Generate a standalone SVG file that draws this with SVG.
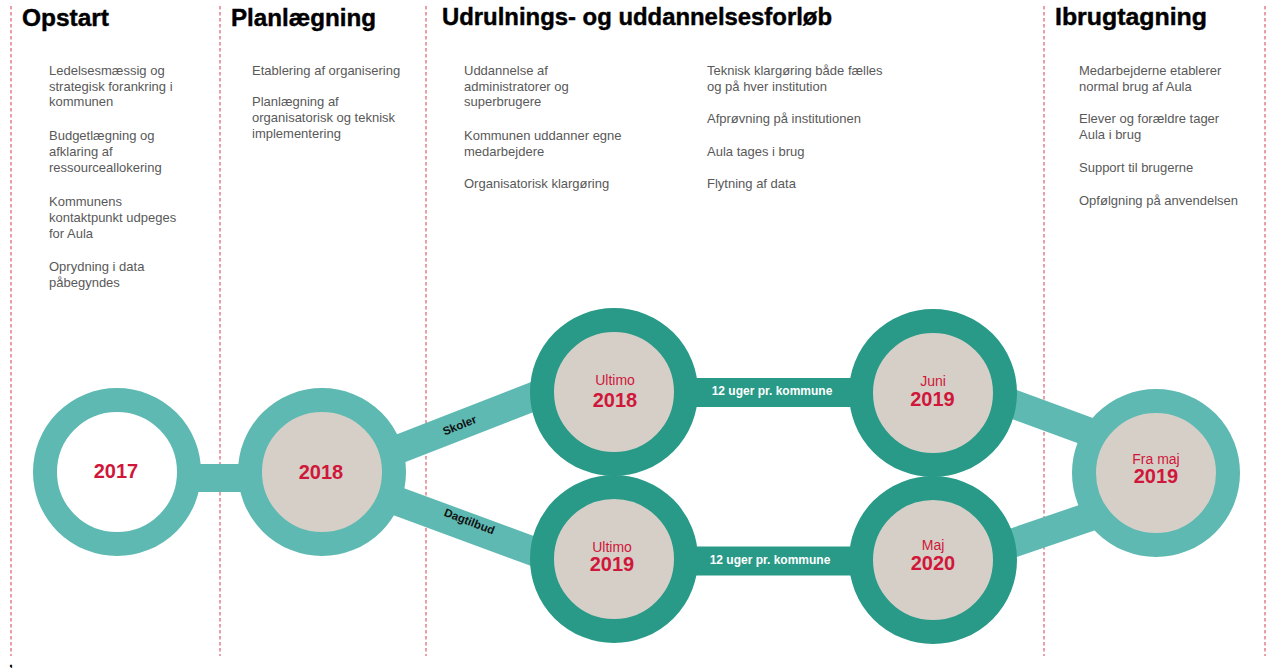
<svg xmlns="http://www.w3.org/2000/svg" width="1270" height="668" viewBox="0 0 1270 668">
<style>
.hdr{font-family:"Liberation Sans",Arial,sans-serif;font-weight:bold;font-size:23px;fill:#000;stroke:#000;stroke-width:0.4}
.body{font-family:"Liberation Sans",Arial,sans-serif;font-size:13px;fill:#595959}
.div{stroke:#d9606e;stroke-width:1.2;stroke-dasharray:3.5 2.5;fill:none}
.ringL{stroke:#5db9b1;stroke-width:24}
.ringD{stroke:#289a87;stroke-width:24}
.barL{stroke:#5db9b1;stroke-width:29;fill:none}
.barD{stroke:#289a87;stroke-width:29;fill:none}
.yr{font-family:"Liberation Sans",Arial,sans-serif;font-weight:bold;font-size:20px;fill:#d0173a;text-anchor:middle}
.mo{font-family:"Liberation Sans",Arial,sans-serif;font-size:14px;fill:#d0173a;text-anchor:middle}
.wk{font-family:"Liberation Sans",Arial,sans-serif;font-weight:bold;font-size:12px;fill:#fff;text-anchor:middle}
.br{font-family:"Liberation Sans",Arial,sans-serif;font-weight:bold;font-size:11.5px;fill:#111;text-anchor:middle}
</style>
<rect width="1270" height="668" fill="#fff"/>
<g id="dividers">
<line class="div" x1="11" y1="6" x2="11" y2="656"/>
<line class="div" x1="220" y1="6" x2="220" y2="656"/>
<line class="div" x1="426" y1="6" x2="426" y2="656"/>
<line class="div" x1="1044" y1="6" x2="1044" y2="656"/>
<line class="div" x1="1265" y1="6" x2="1265" y2="656"/>
</g>
<g id="col-opstart">
<text class="hdr" x="22" y="26" textLength="87" lengthAdjust="spacingAndGlyphs">Opstart</text>
<text class="body" x="49" y="74.5">Ledelsesmæssig og</text>
<text class="body" x="49" y="90.5">strategisk forankring i</text>
<text class="body" x="49" y="106">kommunen</text>
<text class="body" x="49" y="140">Budgetlægning og</text>
<text class="body" x="49" y="156">afklaring af</text>
<text class="body" x="49" y="172">ressourceallokering</text>
<text class="body" x="49" y="205.5">Kommunens</text>
<text class="body" x="49" y="221.5">kontaktpunkt udpeges</text>
<text class="body" x="49" y="237.5">for Aula</text>
<text class="body" x="49" y="271">Oprydning i data</text>
<text class="body" x="49" y="287">påbegyndes</text>
</g>
<g id="col-planlaegning">
<text class="hdr" x="231" y="26" textLength="145" lengthAdjust="spacingAndGlyphs">Planlægning</text>
<text class="body" x="252" y="74.5">Etablering af organisering</text>
<text class="body" x="252" y="106">Planlægning af</text>
<text class="body" x="252" y="122">organisatorisk og teknisk</text>
<text class="body" x="252" y="138">implementering</text>
</g>
<g id="col-udrulning">
<text class="hdr" x="442" y="25" textLength="390" lengthAdjust="spacingAndGlyphs">Udrulnings- og uddannelsesforløb</text>
<text class="body" x="464" y="74.5">Uddannelse af</text>
<text class="body" x="464" y="90.5">administratorer og</text>
<text class="body" x="464" y="106">superbrugere</text>
<text class="body" x="464" y="140">Kommunen uddanner egne</text>
<text class="body" x="464" y="156">medarbejdere</text>
<text class="body" x="464" y="188">Organisatorisk klargøring</text>
<text class="body" x="707" y="74.5">Teknisk klargøring både fælles</text>
<text class="body" x="707" y="90.5">og på hver institution</text>
<text class="body" x="707" y="123">Afprøvning på institutionen</text>
<text class="body" x="707" y="156">Aula tages i brug</text>
<text class="body" x="707" y="188">Flytning af data</text>
</g>
<g id="col-ibrugtagning">
<text class="hdr" x="1055" y="25" textLength="152" lengthAdjust="spacingAndGlyphs">Ibrugtagning</text>
<text class="body" x="1079" y="74.5">Medarbejderne etablerer</text>
<text class="body" x="1079" y="90.5">normal brug af Aula</text>
<text class="body" x="1079" y="123">Elever og forældre tager</text>
<text class="body" x="1079" y="139">Aula i brug</text>
<text class="body" x="1079" y="172">Support til brugerne</text>
<text class="body" x="1079" y="205">Opfølgning på anvendelsen</text>
</g>
<g id="connectors">
<rect x="180" y="464" width="90" height="28" fill="#5db9b1"/>
<line class="barL" x1="340" y1="472" x2="580" y2="378.5"/>
<line class="barL" x1="340" y1="480" x2="580" y2="568.5"/>
<line class="barD" x1="614" y1="392.5" x2="933" y2="392.5"/>
<line class="barD" x1="614" y1="561" x2="933" y2="561"/>
<line class="barL" x1="960" y1="384.5" x2="1130" y2="447"/>
<line class="barL" x1="960" y1="561" x2="1130" y2="503"/>
<text class="br" transform="translate(461,429) rotate(-22)">Skoler</text>
<text class="br" transform="translate(468,525) rotate(21)">Dagtilbud</text>
<text class="wk" x="772" y="395">12 uger pr. kommune</text>
<text class="wk" x="770" y="564">12 uger pr. kommune</text>
</g>
<g id="node-2017">
<circle class="ringL" cx="117" cy="472" r="72" fill="#fff"/>
<text class="yr" x="116" y="478">2017</text>
</g>
<g id="node-2018">
<circle class="ringL" cx="322" cy="472" r="72" fill="#d5cfc8"/>
<text class="yr" x="321" y="479">2018</text>
</g>
<g id="node-ultimo-2018">
<circle class="ringD" cx="614" cy="392" r="72" fill="#d5cfc8"/>
<text class="mo" x="615" y="385">Ultimo</text>
<text class="yr" x="615" y="406.5">2018</text>
</g>
<g id="node-ultimo-2019">
<circle class="ringD" cx="614" cy="559" r="72" fill="#d5cfc8"/>
<text class="mo" x="612" y="551.5">Ultimo</text>
<text class="yr" x="612" y="571">2019</text>
</g>
<g id="node-juni-2019">
<circle class="ringD" cx="933" cy="393" r="72" fill="#d5cfc8"/>
<text class="mo" x="933" y="386">Juni</text>
<text class="yr" x="932.5" y="405.5">2019</text>
</g>
<g id="node-maj-2020">
<circle class="ringD" cx="933" cy="560" r="72" fill="#d5cfc8"/>
<text class="mo" x="933" y="550">Maj</text>
<text class="yr" x="933" y="570">2020</text>
</g>
<g id="node-fra-maj-2019">
<circle class="ringL" cx="1156" cy="473" r="72" fill="#d5cfc8"/>
<text class="mo" x="1156" y="463.5" font-size="13">Fra maj</text>
<text class="yr" x="1156" y="482.5" font-size="19">2019</text>
</g>
<text x="9" y="667" font-family="Liberation Sans, Arial, sans-serif" font-weight="bold" font-size="14" fill="#000">,</text>
</svg>
